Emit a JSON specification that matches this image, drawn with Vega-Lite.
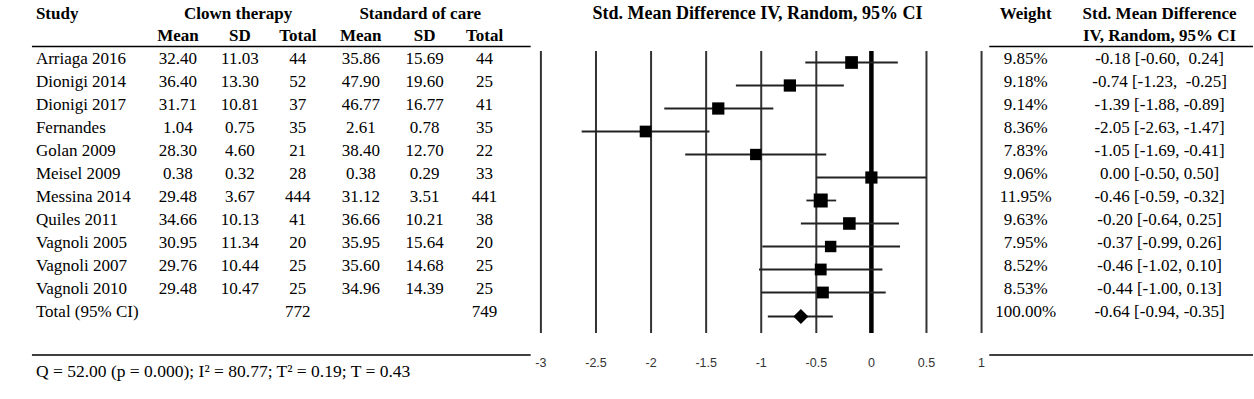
{
  "$schema": "https://vega.github.io/schema/vega-lite/v6.json",
  "width": 1254,
  "height": 399,
  "padding": 0,
  "autosize": {"type": "fit", "contains": "padding"},
  "background": "white",
  "data": {"values": [{}]},
  "config": {
    "view": {"stroke": null},
    "axis": {"disable": true},
    "text": {"font": "Liberation Serif", "fontSize": 17, "color": "black", "baseline": "middle"}
  },
  "datasets": {
    "studies": [
      {"study": "Arriaga 2016", "row": 1, "ct_mean": 32.40, "ct_sd": 11.03, "ct_n": 44, "soc_mean": 35.86, "soc_sd": 15.69, "soc_n": 44, "weight": 0.0985, "smd": -0.18, "lo": -0.60, "hi": 0.24, "ci_label": "-0.18 [-0.60, \u00a00.24]"},
      {"study": "Dionigi 2014", "row": 2, "ct_mean": 36.40, "ct_sd": 13.30, "ct_n": 52, "soc_mean": 47.90, "soc_sd": 19.60, "soc_n": 25, "weight": 0.0918, "smd": -0.74, "lo": -1.23, "hi": -0.25, "ci_label": "-0.74 [-1.23, \u00a0-0.25]"},
      {"study": "Dionigi 2017", "row": 3, "ct_mean": 31.71, "ct_sd": 10.81, "ct_n": 37, "soc_mean": 46.77, "soc_sd": 16.77, "soc_n": 41, "weight": 0.0914, "smd": -1.39, "lo": -1.88, "hi": -0.89, "ci_label": "-1.39 [-1.88, -0.89]"},
      {"study": "Fernandes", "row": 4, "ct_mean": 1.04, "ct_sd": 0.75, "ct_n": 35, "soc_mean": 2.61, "soc_sd": 0.78, "soc_n": 35, "weight": 0.0836, "smd": -2.05, "lo": -2.63, "hi": -1.47, "ci_label": "-2.05 [-2.63, -1.47]"},
      {"study": "Golan 2009", "row": 5, "ct_mean": 28.30, "ct_sd": 4.60, "ct_n": 21, "soc_mean": 38.40, "soc_sd": 12.70, "soc_n": 22, "weight": 0.0783, "smd": -1.05, "lo": -1.69, "hi": -0.41, "ci_label": "-1.05 [-1.69, -0.41]"},
      {"study": "Meisel 2009", "row": 6, "ct_mean": 0.38, "ct_sd": 0.32, "ct_n": 28, "soc_mean": 0.38, "soc_sd": 0.29, "soc_n": 33, "weight": 0.0906, "smd": 0.00, "lo": -0.50, "hi": 0.50, "ci_label": "0.00 [-0.50, 0.50]"},
      {"study": "Messina 2014", "row": 7, "ct_mean": 29.48, "ct_sd": 3.67, "ct_n": 444, "soc_mean": 31.12, "soc_sd": 3.51, "soc_n": 441, "weight": 0.1195, "smd": -0.46, "lo": -0.59, "hi": -0.32, "ci_label": "-0.46 [-0.59, -0.32]"},
      {"study": "Quiles 2011", "row": 8, "ct_mean": 34.66, "ct_sd": 10.13, "ct_n": 41, "soc_mean": 36.66, "soc_sd": 10.21, "soc_n": 38, "weight": 0.0963, "smd": -0.20, "lo": -0.64, "hi": 0.25, "ci_label": "-0.20 [-0.64, 0.25]"},
      {"study": "Vagnoli 2005", "row": 9, "ct_mean": 30.95, "ct_sd": 11.34, "ct_n": 20, "soc_mean": 35.95, "soc_sd": 15.64, "soc_n": 20, "weight": 0.0795, "smd": -0.37, "lo": -0.99, "hi": 0.26, "ci_label": "-0.37 [-0.99, 0.26]"},
      {"study": "Vagnoli 2007", "row": 10, "ct_mean": 29.76, "ct_sd": 10.44, "ct_n": 25, "soc_mean": 35.60, "soc_sd": 14.68, "soc_n": 25, "weight": 0.0852, "smd": -0.46, "lo": -1.02, "hi": 0.10, "ci_label": "-0.46 [-1.02, 0.10]"},
      {"study": "Vagnoli 2010", "row": 11, "ct_mean": 29.48, "ct_sd": 10.47, "ct_n": 25, "soc_mean": 34.96, "soc_sd": 14.39, "soc_n": 25, "weight": 0.0853, "smd": -0.44, "lo": -1.00, "hi": 0.13, "ci_label": "-0.44 [-1.00, 0.13]"}
    ],
    "total": [
      {"study": "Total (95% CI)", "row": 12, "ct_n": 772, "soc_n": 749, "weight": 1.0, "smd": -0.64, "lo": -0.94, "hi": -0.35, "ci_label": "-0.64 [-0.94, -0.35]"}
    ],
    "ticks": [
      {"v": -3, "label": "-3"}, {"v": -2.5, "label": "-2.5"}, {"v": -2, "label": "-2"}, {"v": -1.5, "label": "-1.5"},
      {"v": -1, "label": "-1"}, {"v": -0.5, "label": "-0.5"}, {"v": 0, "label": "0"}, {"v": 0.5, "label": "0.5"}, {"v": 1, "label": "1"}
    ]
  },
  "layer": [
    {
      "data": {"name": "ticks"},
      "mark": {"type": "rule", "color": "#333", "strokeWidth": 2},
      "encoding": {
        "x": {"field": "v", "type": "quantitative", "scale": {"domain": [-7.91, 3.464], "nice": false, "zero": false}},
        "y": {"datum": 0.652, "type": "quantitative", "scale": {"domain": [-1.5652, 15.783], "nice": false, "zero": false, "reverse": true}},
        "y2": {"datum": 12.913}
      }
    },
    {
      "data": {"name": "ticks"},
      "mark": {"type": "text", "font": "Liberation Sans", "fontSize": 12.5, "color": "#333", "align": "center"},
      "encoding": {
        "x": {"field": "v", "type": "quantitative"},
        "y": {"datum": 14.22},
        "text": {"field": "label"}
      }
    },
    {
      "mark": {"type": "rule", "color": "black", "strokeWidth": 4.5},
      "encoding": {"x": {"datum": 0}, "y": {"datum": 0.652}, "y2": {"datum": 12.913}}
    },
    {
      "data": {"name": "studies"},
      "mark": {"type": "rule", "color": "#222", "strokeWidth": 1.8, "yOffset": 3.5},
      "encoding": {"x": {"field": "lo", "type": "quantitative"}, "x2": {"field": "hi"}, "y": {"field": "row", "type": "quantitative"}}
    },
    {
      "data": {"name": "total"},
      "mark": {"type": "rule", "color": "#222", "strokeWidth": 1.8, "yOffset": 4.5},
      "encoding": {"x": {"field": "lo", "type": "quantitative"}, "x2": {"field": "hi"}, "y": {"field": "row", "type": "quantitative"}}
    },
    {
      "data": {"name": "studies"},
      "mark": {"type": "point", "shape": "square", "filled": true, "color": "black", "opacity": 1, "yOffset": 3.5},
      "encoding": {
        "x": {"field": "smd", "type": "quantitative"},
        "y": {"field": "row", "type": "quantitative"},
        "size": {"field": "weight", "type": "quantitative", "scale": {"domain": [0, 0.1195], "range": [0, 196], "zero": true}, "legend": null}
      }
    },
    {
      "data": {"name": "total"},
      "mark": {"type": "point", "shape": "diamond", "filled": true, "color": "black", "opacity": 1, "size": 225, "yOffset": 4.5},
      "encoding": {"x": {"field": "smd", "type": "quantitative"}, "y": {"field": "row", "type": "quantitative"}}
    },
    {
      "mark": {"type": "rule", "color": "black", "strokeWidth": 1.5},
      "encoding": {"x": {"datum": -7.62}, "x2": {"datum": -3.093}, "y": {"datum": 0.46}}
    },
    {
      "mark": {"type": "rule", "color": "black", "strokeWidth": 1.5},
      "encoding": {"x": {"datum": 1.07}, "x2": {"datum": 3.464}, "y": {"datum": 0.46}}
    },
    {
      "mark": {"type": "rule", "color": "black", "strokeWidth": 1.5},
      "encoding": {"x": {"datum": -7.62}, "x2": {"datum": -3.093}, "y": {"datum": 13.87}}
    },
    {
      "mark": {"type": "rule", "color": "black", "strokeWidth": 1.5},
      "encoding": {"x": {"datum": 1.07}, "x2": {"datum": 3.464}, "y": {"datum": 13.87}}
    },
    {"mark": {"type": "text", "fontWeight": "bold", "align": "left"}, "encoding": {"x": {"datum": -7.584}, "y": {"datum": -0.96}, "text": {"value": "Study"}}},
    {"mark": {"type": "text", "fontWeight": "bold", "align": "center"}, "encoding": {"x": {"datum": -5.748}, "y": {"datum": -0.96}, "text": {"value": "Clown therapy"}}},
    {"mark": {"type": "text", "fontWeight": "bold", "align": "center"}, "encoding": {"x": {"datum": -4.096}, "y": {"datum": -0.96}, "text": {"value": "Standard of care"}}},
    {"mark": {"type": "text", "fontWeight": "bold", "align": "center"}, "encoding": {"x": {"datum": -6.295}, "y": {"datum": 0}, "text": {"value": "Mean"}}},
    {"mark": {"type": "text", "fontWeight": "bold", "align": "center"}, "encoding": {"x": {"datum": -5.733}, "y": {"datum": 0}, "text": {"value": "SD"}}},
    {"mark": {"type": "text", "fontWeight": "bold", "align": "center"}, "encoding": {"x": {"datum": -5.207}, "y": {"datum": 0}, "text": {"value": "Total"}}},
    {"mark": {"type": "text", "fontWeight": "bold", "align": "center"}, "encoding": {"x": {"datum": -4.635}, "y": {"datum": 0}, "text": {"value": "Mean"}}},
    {"mark": {"type": "text", "fontWeight": "bold", "align": "center"}, "encoding": {"x": {"datum": -4.055}, "y": {"datum": 0}, "text": {"value": "SD"}}},
    {"mark": {"type": "text", "fontWeight": "bold", "align": "center"}, "encoding": {"x": {"datum": -3.511}, "y": {"datum": 0}, "text": {"value": "Total"}}},
    {"mark": {"type": "text", "fontWeight": "bold", "align": "center", "fontSize": 18}, "encoding": {"x": {"datum": -1.034}, "y": {"datum": -0.96}, "text": {"value": "Std. Mean Difference IV, Random, 95% CI"}}},
    {"mark": {"type": "text", "fontWeight": "bold", "align": "center"}, "encoding": {"x": {"datum": 1.401}, "y": {"datum": -0.96}, "text": {"value": "Weight"}}},
    {"mark": {"type": "text", "fontWeight": "bold", "align": "center"}, "encoding": {"x": {"datum": 2.616}, "y": {"datum": -0.96}, "text": {"value": "Std. Mean Difference"}}},
    {"mark": {"type": "text", "fontWeight": "bold", "align": "center"}, "encoding": {"x": {"datum": 2.616}, "y": {"datum": 0}, "text": {"value": "IV, Random, 95% CI"}}},
    {"data": {"name": "studies"}, "mark": {"type": "text", "align": "left"}, "encoding": {"x": {"datum": -7.584}, "y": {"field": "row", "type": "quantitative"}, "text": {"field": "study"}}},
    {"data": {"name": "studies"}, "mark": {"type": "text", "align": "center"}, "encoding": {"x": {"datum": -6.295}, "y": {"field": "row", "type": "quantitative"}, "text": {"field": "ct_mean", "type": "quantitative", "format": ".2f"}}},
    {"data": {"name": "studies"}, "mark": {"type": "text", "align": "center"}, "encoding": {"x": {"datum": -5.733}, "y": {"field": "row", "type": "quantitative"}, "text": {"field": "ct_sd", "type": "quantitative", "format": ".2f"}}},
    {"data": {"name": "studies"}, "mark": {"type": "text", "align": "center"}, "encoding": {"x": {"datum": -5.207}, "y": {"field": "row", "type": "quantitative"}, "text": {"field": "ct_n", "type": "quantitative", "format": "d"}}},
    {"data": {"name": "studies"}, "mark": {"type": "text", "align": "center"}, "encoding": {"x": {"datum": -4.635}, "y": {"field": "row", "type": "quantitative"}, "text": {"field": "soc_mean", "type": "quantitative", "format": ".2f"}}},
    {"data": {"name": "studies"}, "mark": {"type": "text", "align": "center"}, "encoding": {"x": {"datum": -4.055}, "y": {"field": "row", "type": "quantitative"}, "text": {"field": "soc_sd", "type": "quantitative", "format": ".2f"}}},
    {"data": {"name": "studies"}, "mark": {"type": "text", "align": "center"}, "encoding": {"x": {"datum": -3.511}, "y": {"field": "row", "type": "quantitative"}, "text": {"field": "soc_n", "type": "quantitative", "format": "d"}}},
    {"data": {"name": "studies"}, "mark": {"type": "text", "align": "center"}, "encoding": {"x": {"datum": 1.401}, "y": {"field": "row", "type": "quantitative"}, "text": {"field": "weight", "type": "quantitative", "format": ".2%"}}},
    {"data": {"name": "studies"}, "mark": {"type": "text", "align": "center"}, "encoding": {"x": {"datum": 2.616}, "y": {"field": "row", "type": "quantitative"}, "text": {"field": "ci_label"}}},
    {"data": {"name": "total"}, "mark": {"type": "text", "align": "left"}, "encoding": {"x": {"datum": -7.584}, "y": {"field": "row", "type": "quantitative"}, "text": {"field": "study"}}},
    {"data": {"name": "total"}, "mark": {"type": "text", "align": "center"}, "encoding": {"x": {"datum": -5.207}, "y": {"field": "row", "type": "quantitative"}, "text": {"field": "ct_n", "type": "quantitative", "format": "d"}}},
    {"data": {"name": "total"}, "mark": {"type": "text", "align": "center"}, "encoding": {"x": {"datum": -3.511}, "y": {"field": "row", "type": "quantitative"}, "text": {"field": "soc_n", "type": "quantitative", "format": "d"}}},
    {"data": {"name": "total"}, "mark": {"type": "text", "align": "center"}, "encoding": {"x": {"datum": 1.401}, "y": {"field": "row", "type": "quantitative"}, "text": {"field": "weight", "type": "quantitative", "format": ".2%"}}},
    {"data": {"name": "total"}, "mark": {"type": "text", "align": "center"}, "encoding": {"x": {"datum": 2.616}, "y": {"field": "row", "type": "quantitative"}, "text": {"field": "ci_label"}}},
    {"mark": {"type": "text", "align": "left", "fontSize": 17.5}, "encoding": {"x": {"datum": -7.584}, "y": {"datum": 14.61}, "text": {"value": "Q = 52.00 (p = 0.000); I² = 80.77; T² = 0.19; T = 0.43"}}}
  ]
}
